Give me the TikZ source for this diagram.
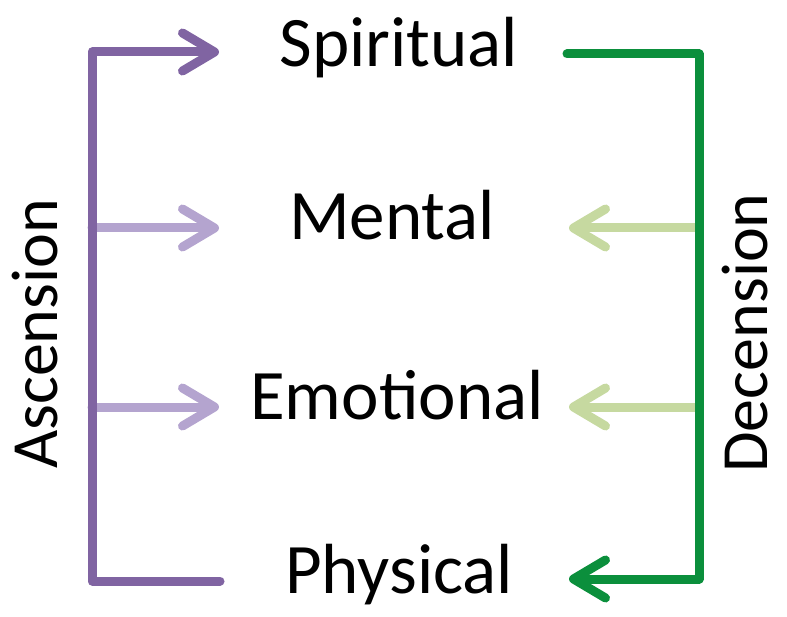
\documentclass[tikz,border=0pt]{standalone}
\usepackage{fontspec}
\setmainfont{Carlito}
\usetikzlibrary{arrows.meta}
\usepackage{xcolor}
\definecolor{AscPurple}{HTML}{8064A2}
\definecolor{AscLilac}{HTML}{B4A4CF}
\definecolor{DecGreen}{HTML}{0B8F3C}
\definecolor{DecLime}{HTML}{C6D9A0}
\tikzset{
    % level names in the middle
    levelname/.style={
        anchor=base,
        inner sep=0pt,
        font=\fontsize{71}{71}\selectfont
    },
    % rotated side labels
    sidename/.style={
        anchor=base,
        rotate=90,
        inner sep=0pt,
        font=\fontsize{66}{66}\selectfont
    },
    % arrow styles
    barb/.style={
        line width=9pt,
        line cap=round,
        line join=round,
        -{Straight Barb[length=32pt,width=38pt,round]}
    },
    ascline/.style={barb, draw=AscPurple},
    ascstep/.style={barb, draw=AscLilac},
    decline/.style={barb, draw=DecGreen},
    decstep/.style={barb, draw=DecLime}
}
\begin{document}
\begin{tikzpicture}[x=1pt, y=-1pt]
    \useasboundingbox (0,0) rectangle (787,617);

    \node[levelname] (spirit) at (399,67) {Spiritual};
    \node[levelname] (mental) at (392,240) {Mental};
    \node[levelname] (emotion) at (397,420) {Emotional};
    \node[levelname] (physic) at (399,593) {Physical};

    \node[sidename] (asc) at (57,334) {Ascension};
    \node[sidename] (dec) at (767,333) {Decension};

    % ascension rail
    \coordinate (ascTop) at (92,52);
    \coordinate (ascMid1) at (92,228);
    \coordinate (ascMid2) at (92,407);
    \coordinate (ascBot) at (92,581);
    \coordinate (ascTopEnd) at (219,52);
    \coordinate (ascMid1End) at (219,228);
    \coordinate (ascMid2End) at (219,407);
    \coordinate (ascBotEnd) at (220,581);

    % decension rail
    \coordinate (decTop) at (699,54);
    \coordinate (decMid1) at (698,228);
    \coordinate (decMid2) at (698,407);
    \coordinate (decBot) at (699,579);
    \coordinate (decTopEnd) at (567,54);
    \coordinate (decMid1End) at (569,228);
    \coordinate (decMid2End) at (569,407);
    \coordinate (decBotEnd) at (569,579);

    \draw[ascstep] (ascMid1) -- (ascMid1End);
    \draw[ascstep] (ascMid2) -- (ascMid2End);
    \draw[ascline] (ascBotEnd) -- (ascBot) -- (ascTop) -- (ascTopEnd);

    \draw[decstep] (decMid1) -- (decMid1End);
    \draw[decstep] (decMid2) -- (decMid2End);
    \draw[decline] (decTopEnd) -- (decTop) -- (decBot) -- (decBotEnd);
\end{tikzpicture}
\end{document}
